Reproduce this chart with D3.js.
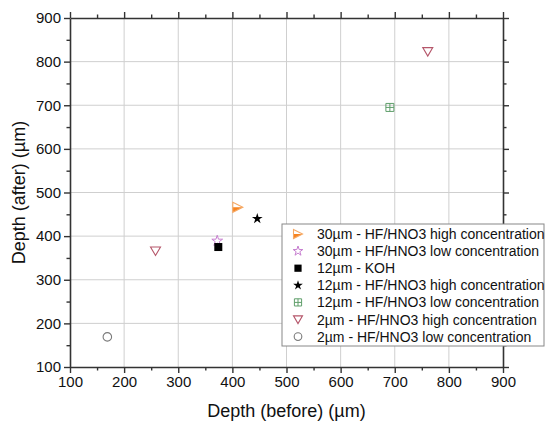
<!DOCTYPE html>
<html lang="en">
<head>
    <meta charset="UTF-8">
    <title>Depth before/after</title>
    <script src="https://cdn.jsdelivr.net/npm/d3@7"></script>
    <style>
        body { margin: 0; background: #fff; }
        text { font-family: "Liberation Sans", Arial, sans-serif; fill: #111; }
    </style>
</head>
<body>
    <svg width="548" height="422"></svg>
    <script>
        // series labels, shown in legend order
        const labels = [
            "30\u00b5m  - HF/HNO3 high concentration",
            "30\u00b5m - HF/HNO3 low concentration",
            "12\u00b5m - KOH",
            "12\u00b5m - HF/HNO3 high concentration",
            "12\u00b5m - HF/HNO3 low concentration",
            "2\u00b5m - HF/HNO3 high concentration",
            "2\u00b5m - HF/HNO3 low concentration"
        ];
        // depth before / after (µm), one list per series
        const depthBefore = [[410], [372], [374], [446], [691], [258, 761], [169]];
        const depthAfter = [[466], [389], [375], [440], [695], [366, 823], [169]];
        const markers = ["halfTriangle", "openStar", "square", "star", "crossSquare", "downTriangle", "circle"];
        const colors = ["#f7831f", "#c77fd0", "#000000", "#000000", "#5f9e6a", "#b5566a", "#7a7a7a"];
        const ticks = [100, 200, 300, 400, 500, 600, 700, 800, 900];

        const svg = d3.select("svg");
        const mLeft = 70, mRight = 503, mTop = 18, mBottom = 367;
        const font = "'Liberation Sans', Arial, sans-serif";

        const x = d3.scaleLinear().domain([100, 900]).range([mLeft, mRight]);
        const y = d3.scaleLinear().domain([100, 900]).range([mBottom, mTop]);

        // grid
        const grid = svg.append("g").attr("stroke", "#cfcfcf").attr("stroke-width", 1);
        grid.selectAll(".gx").data(ticks.slice(1, -1)).enter().append("line")
            .attr("x1", d => x(d)).attr("x2", d => x(d))
            .attr("y1", mTop).attr("y2", mBottom);
        grid.selectAll(".gy").data(ticks.slice(1, -1)).enter().append("line")
            .attr("y1", d => y(d)).attr("y2", d => y(d))
            .attr("x1", mLeft).attr("x2", mRight);

        // axes (outer ticks on all four sides)
        const minor = d3.range(150, 900, 100);
        function styleAxis(g) {
            g.select(".domain").attr("stroke", "#333").attr("stroke-width", 1.6);
            g.selectAll(".tick line").attr("stroke", "#333").attr("stroke-width", 1.4);
            g.selectAll("text").attr("font-size", "15px").attr("fill", "#111")
                .attr("font-family", font);
        }
        function addAxis(axisFn, scale, transform, labelsOn) {
            const major = axisFn(scale).tickValues(ticks).tickSizeInner(6).tickSizeOuter(0).tickPadding(3);
            if (!labelsOn) major.tickFormat("");
            svg.append("g").attr("transform", transform).call(major).call(styleAxis);
            const mn = axisFn(scale).tickValues(minor).tickSize(3.5).tickFormat("");
            svg.append("g").attr("transform", transform).call(mn).call(styleAxis)
                .select(".domain").remove();
        }
        addAxis(d3.axisBottom, x, `translate(0,${mBottom})`, true);
        addAxis(d3.axisTop, x, `translate(0,${mTop})`, false);
        addAxis(d3.axisLeft, y, `translate(${mLeft},0)`, true);
        addAxis(d3.axisRight, y, `translate(${mRight},0)`, false);

        // axis titles
        svg.append("text").attr("x", (mLeft + mRight) / 2).attr("y", 417)
            .attr("text-anchor", "middle").attr("font-size", "18px")
            .text("Depth (before) (\u00b5m)");
        svg.append("text").attr("transform", `translate(25,${(mTop + mBottom) / 2}) rotate(-90)`)
            .attr("text-anchor", "middle").attr("font-size", "18px")
            .text("Depth (after) (\u00b5m)");

        // marker drawing
        function drawMarker(g, type, color, s) {
            const h = s / 2;
            if (type === "halfTriangle") {
                g.append("path").attr("d", `M${-h},${h}L${-h},0L${h},0Z`).attr("fill", color);
                g.append("path").attr("d", `M${-h},${-h}L${h},0L${-h},${h}Z`)
                    .attr("fill", "none").attr("stroke", "#f5a864").attr("stroke-width", 1.1);
            } else if (type === "openStar") {
                g.append("path").attr("d", d3.symbol(d3.symbolStar, s * s * 0.36)())
                    .attr("fill", "none").attr("stroke", color).attr("stroke-width", 1);
            } else if (type === "star") {
                g.append("path").attr("d", d3.symbol(d3.symbolStar, s * s * 0.36)()).attr("fill", color);
            } else if (type === "square") {
                g.append("rect").attr("x", -h * 0.8).attr("y", -h * 0.8)
                    .attr("width", s * 0.8).attr("height", s * 0.8).attr("fill", color);
            } else if (type === "crossSquare") {
                const q = h * 0.8;
                g.append("path").attr("d", `M${-q},${-q}H${q}V${q}H${-q}ZM0,${-q}V${q}M${-q},0H${q}`)
                    .attr("fill", "none").attr("stroke", color).attr("stroke-width", 1);
            } else if (type === "downTriangle") {
                g.append("path").attr("d", `M${-h},${-h * 0.8}L${h},${-h * 0.8}L0,${h * 0.9}Z`)
                    .attr("fill", "none").attr("stroke", color).attr("stroke-width", 1.1);
            } else if (type === "circle") {
                g.append("circle").attr("r", h * 0.85)
                    .attr("fill", "none").attr("stroke", color).attr("stroke-width", 1.1);
            }
        }

        // points
        labels.forEach((lab, i) => {
            depthBefore[i].forEach((bx, j) => {
                const g = svg.append("g")
                    .attr("transform", `translate(${x(bx)},${y(depthAfter[i][j])})`);
                drawMarker(g, markers[i], colors[i], 10);
            });
        });

        // legend
        const lx = 282, ly = 224, rowH = 17.1;
        const legend = svg.append("g");
        legend.append("rect").attr("x", lx).attr("y", ly)
            .attr("width", 262).attr("height", 122)
            .attr("fill", "#fff").attr("stroke", "#888").attr("stroke-width", 1);
        labels.forEach((lab, i) => {
            const cy = ly + 10 + i * rowH;
            const g = legend.append("g").attr("transform", `translate(298,${cy})`);
            drawMarker(g, markers[i], colors[i], 9);
            legend.append("text").attr("x", 317).attr("y", cy + 5)
                .attr("font-size", "14px").attr("font-family", font).text(lab);
        });
    </script>
</body>
</html>
